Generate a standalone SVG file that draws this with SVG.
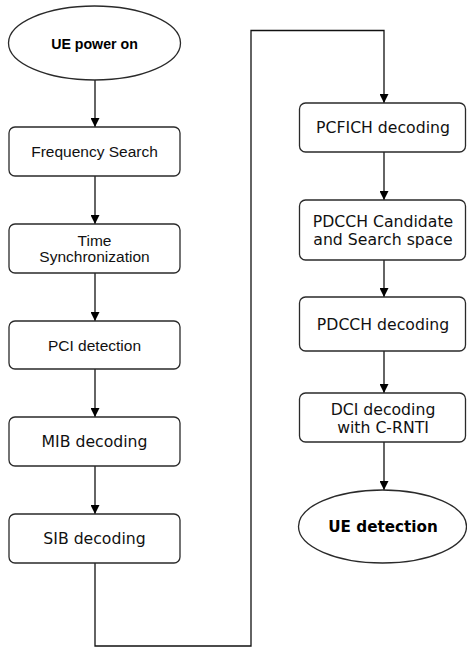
<svg xmlns="http://www.w3.org/2000/svg" width="467" height="648" viewBox="0 0 467 648">
<style>
.n{fill:#fff;stroke:#2a2a2a;stroke-width:1.3}
.c{fill:none;stroke:#111;stroke-width:1.3}
.a{font-family:"Liberation Sans",Arial,sans-serif;font-size:15.5px;fill:#111;text-anchor:middle}
.v{font-family:"DejaVu Sans",Verdana,sans-serif;font-size:15.7px;fill:#111;text-anchor:middle}
.ab{font-family:"Liberation Sans",Arial,sans-serif;font-size:14.2px;font-weight:bold;fill:#000;text-anchor:middle}
.vb{font-family:"DejaVu Sans",Verdana,sans-serif;font-size:15.2px;font-weight:bold;fill:#000;text-anchor:middle}
</style>
<defs>
<marker id="ah" viewBox="0 0 10 10" refX="10" refY="5" markerWidth="9" markerHeight="9" markerUnits="userSpaceOnUse" orient="auto">
<path d="M0,0 L10,5 L0,10 z" fill="#000"/>
</marker>
</defs>
<rect width="467" height="648" fill="#fff"/>
<g id="connectors">
<path class="c" d="M95,80 V127" marker-end="url(#ah)"/>
<path class="c" d="M95,176 V224" marker-end="url(#ah)"/>
<path class="c" d="M95,273 V321" marker-end="url(#ah)"/>
<path class="c" d="M95,369 V417" marker-end="url(#ah)"/>
<path class="c" d="M95,466 V514" marker-end="url(#ah)"/>
<path class="c" d="M95,563 V646 H251 V30.5 H384 V103" marker-end="url(#ah)"/>
<path class="c" d="M384,152 V200" marker-end="url(#ah)"/>
<path class="c" d="M384,260 V297" marker-end="url(#ah)"/>
<path class="c" d="M384,351 V393" marker-end="url(#ah)"/>
<path class="c" d="M384,442 V490" marker-end="url(#ah)"/>
</g>
<g id="ue-power-on">
<ellipse class="n" cx="94.5" cy="43" rx="86" ry="37"/>
<text class="ab" x="94.5" y="49">UE power on</text>
</g>
<g id="frequency-search">
<rect class="n" x="9" y="127" width="171" height="49" rx="6"/>
<text class="a" x="94.5" y="156.5">Frequency Search</text>
</g>
<g id="time-sync">
<rect class="n" x="9" y="224" width="171" height="49" rx="6"/>
<text class="a" x="94.5" y="245.5">Time</text>
<text class="a" x="94.5" y="262">Synchronization</text>
</g>
<g id="pci-detection">
<rect class="n" x="9" y="321" width="171" height="48" rx="6"/>
<text class="a" x="94.5" y="350.5">PCI detection</text>
</g>
<g id="mib-decoding">
<rect class="n" x="9" y="417" width="171" height="49" rx="6"/>
<text class="v" x="94.5" y="447">MIB decoding</text>
</g>
<g id="sib-decoding">
<rect class="n" x="9" y="514" width="171" height="49" rx="6"/>
<text class="v" x="94.5" y="544">SIB decoding</text>
</g>
<g id="pcfich-decoding">
<rect class="n" x="299.5" y="103" width="166" height="49" rx="6"/>
<text class="v" x="383" y="133">PCFICH decoding</text>
</g>
<g id="pdcch-candidate">
<rect class="n" x="299.5" y="200" width="166" height="60" rx="6"/>
<text class="v" x="383" y="227">PDCCH Candidate</text>
<text class="v" x="383" y="245">and Search space</text>
</g>
<g id="pdcch-decoding">
<rect class="n" x="299.5" y="297" width="166" height="54" rx="6"/>
<text class="v" x="383" y="330">PDCCH decoding</text>
</g>
<g id="dci-decoding">
<rect class="n" x="299.5" y="393" width="166" height="49" rx="6"/>
<text class="v" x="383" y="415">DCI decoding</text>
<text class="v" x="383" y="433">with C-RNTI</text>
</g>
<g id="ue-detection">
<ellipse class="n" cx="382.5" cy="526.5" rx="84" ry="36.5"/>
<text class="vb" x="383" y="532">UE detection</text>
</g>
</svg>
